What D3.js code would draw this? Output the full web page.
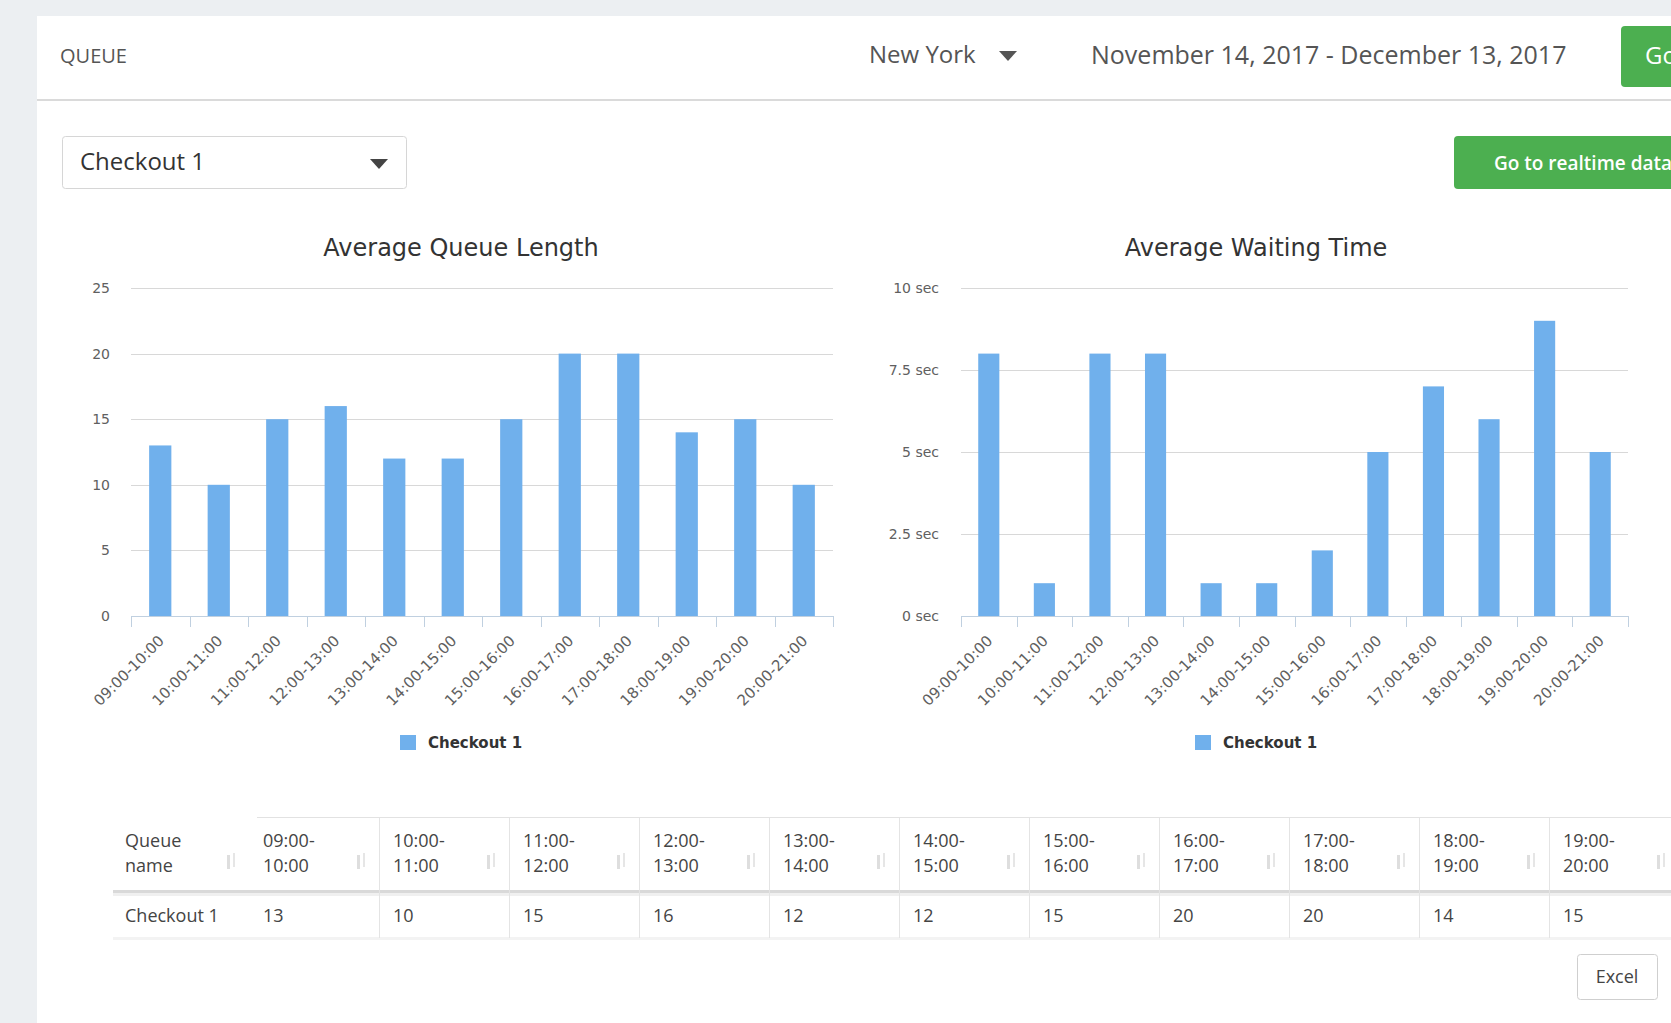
<!DOCTYPE html>
<meta charset="utf-8">
<style>
body { margin: 0; background: #eceff2; }
svg { display: block; }
.ui { font-family: "Open Sans", sans-serif; }
.axis text { font: 14px "DejaVu Sans", sans-serif; fill: #606060; }
.axis text.xl { font-size: 15px; }
.grid line { stroke: #d8d8d8; shape-rendering: crispEdges; }
.title { font: 24px "DejaVu Sans", sans-serif; fill: #333; }
.legend text { font: bold 15px "DejaVu Sans", sans-serif; fill: #333; }
.table text { font: 18px "Open Sans", sans-serif; fill: #444; }
</style>
<svg width="1671" height="1023"></svg>
<script src="https://d3js.org/d3.v7.min.js"></script>
<script>

var slots = ["09:00-10:00", "10:00-11:00", "11:00-12:00", "12:00-13:00", "13:00-14:00", "14:00-15:00",
             "15:00-16:00", "16:00-17:00", "17:00-18:00", "18:00-19:00", "19:00-20:00", "20:00-21:00"];
var queueLength = [13, 10, 15, 16, 12, 12, 15, 20, 20, 14, 15, 10];
var waitingTime = [8, 1, 8, 8, 1, 1, 2, 5, 7, 6, 9, 5];
var queueTicks = [0, 5, 10, 15, 20, 25];
var waitTicks = [0, 2.5, 5, 7.5, 10];
var seriesName = "Checkout 1";

var barColor = "#70b0ec",
    green = "#4caf50";

var svg = d3.select("svg");

// panel + header
svg.append("rect").attr("x", 37).attr("y", 16).attr("width", 1660).attr("height", 1020).attr("fill", "#fff");
svg.append("line").attr("x1", 37).attr("x2", 1671).attr("y1", 100).attr("y2", 100)
    .attr("stroke", "#dadada").attr("stroke-width", 2);

var ui = svg.append("g").attr("class", "ui");
ui.append("text").attr("x", 60).attr("y", 56).attr("dy", "0.35em")
    .attr("font-size", 20).attr("fill", "#555").text("QUEUE");
ui.append("text").attr("x", 869).attr("y", 55).attr("dy", "0.35em")
    .attr("font-size", 24).attr("fill", "#555").text("New York");
ui.append("path").attr("d", "M999,51 L1017,51 L1008,61 Z").attr("fill", "#555");
ui.append("text").attr("x", 1091).attr("y", 55).attr("dy", "0.35em")
    .attr("font-size", 25).attr("fill", "#555").text("November 14, 2017 - December 13, 2017");
ui.append("rect").attr("x", 1621).attr("y", 26).attr("width", 90).attr("height", 61).attr("rx", 4).attr("fill", green);
ui.append("text").attr("x", 1645).attr("y", 56).attr("dy", "0.35em")
    .attr("font-size", 24).attr("fill", "#fff").text("Go");

// dropdown
ui.append("rect").attr("x", 62.5).attr("y", 136.5).attr("width", 344).attr("height", 52).attr("rx", 3)
    .attr("fill", "#fff").attr("stroke", "#d6d6d6");
ui.append("text").attr("x", 80).attr("y", 162).attr("dy", "0.35em")
    .attr("font-size", 24).attr("fill", "#333").text("Checkout 1");
ui.append("path").attr("d", "M370,159 L388,159 L379,169 Z").attr("fill", "#444");

// realtime button
ui.append("rect").attr("x", 1454).attr("y", 136).attr("width", 260).attr("height", 53).attr("rx", 4).attr("fill", green);
ui.append("text").attr("x", 1494).attr("y", 163).attr("dy", "0.35em")
    .attr("font-size", 19).attr("font-weight", 600).attr("fill", "#fff").text("Go to realtime data");

function drawChart(o) {
  var x = d3.scaleBand().domain(slots).range([o.left, o.right]).paddingInner(0.62).paddingOuter(0.31);
  var y = d3.scaleLinear().domain([0, o.max]).range([616, 288]);
  var step = x.step(), x0 = o.left;

  var g = svg.append("g");

  g.append("text").attr("class", "title").attr("x", o.center).attr("y", 248)
      .attr("dy", "0.35em").attr("text-anchor", "middle").text(o.title);

  g.append("g").attr("class", "grid").selectAll("line").data(o.ticks.slice(1)).join("line")
      .attr("x1", o.left).attr("x2", o.right)
      .attr("y1", function(d) { return Math.round(y(d)) + 0.5; })
      .attr("y2", function(d) { return Math.round(y(d)) + 0.5; });

  var yAxis = d3.axisLeft(y).tickValues(o.ticks).tickSize(0).tickPadding(0).tickFormat(o.fmt);
  g.append("g").attr("class", "axis").attr("transform", "translate(" + o.labelX + ",0)").call(yAxis)
      .call(function(s) { s.select(".domain").remove(); });

  g.selectAll("rect.bar").data(o.values).join("rect")
      .attr("class", "bar")
      .attr("x", function(d, i) { return x(slots[i]); })
      .attr("width", x.bandwidth())
      .attr("y", function(d) { return y(d); })
      .attr("height", function(d) { return y(0) - y(d); })
      .attr("fill", barColor);

  // x axis line and ticks at category boundaries
  g.append("line").attr("x1", o.left).attr("x2", o.right).attr("y1", 616.5).attr("y2", 616.5)
      .attr("stroke", "#c0d0e0");
  g.selectAll("line.tick").data(d3.range(slots.length + 1)).join("line")
      .attr("class", "tick")
      .attr("x1", function(i) { return Math.round(x0 + i * step) + 0.5; })
      .attr("x2", function(i) { return Math.round(x0 + i * step) + 0.5; })
      .attr("y1", 616).attr("y2", 627).attr("stroke", "#c0d0e0");

  g.append("g").attr("class", "axis").selectAll("text").data(slots).join("text")
      .attr("class", "xl")
      .attr("transform", function(d) {
        return "translate(" + (x(d) + x.bandwidth() / 2 + 1) + ",638) rotate(-45)";
      })
      .attr("text-anchor", "end").attr("dy", "0.35em").text(function(d) { return d; });

  var lg = g.append("g").attr("class", "legend");
  lg.append("rect").attr("x", o.center - 61).attr("y", 735).attr("width", 16).attr("height", 15).attr("fill", barColor);
  lg.append("text").attr("x", o.center - 33).attr("y", 743).attr("dy", "0.35em").text(seriesName);
}

drawChart({ left: 131, right: 833, center: 461, labelX: 110, max: 25, ticks: queueTicks,
  fmt: function(d) { return d; }, values: queueLength, title: "Average Queue Length" });
drawChart({ left: 961, right: 1628, center: 1256, labelX: 939, max: 10, ticks: waitTicks,
  fmt: function(d) { return d + " sec"; }, values: waitingTime, title: "Average Waiting Time" });

// table
var colX = d3.scaleLinear().domain([0, 1]).range([249, 379]);
var tbl = svg.append("g").attr("class", "table");

tbl.append("line").attr("x1", 257).attr("x2", 1671).attr("y1", 817.5).attr("y2", 817.5).attr("stroke", "#e2e2e2");
tbl.append("rect").attr("x", 113).attr("y", 890).attr("width", 1560).attr("height", 3).attr("fill", "#d9d9d9");
tbl.append("rect").attr("x", 113).attr("y", 893).attr("width", 1560).attr("height", 3).attr("fill", "#f0f0f0");
tbl.append("rect").attr("x", 113).attr("y", 937).attr("width", 1560).attr("height", 3).attr("fill", "#f3f3f3");

tbl.selectAll("line.col").data(d3.range(1, slots.length + 1)).join("line")
    .attr("class", "col")
    .attr("x1", function(i) { return Math.round(colX(i)) + 0.5; })
    .attr("x2", function(i) { return Math.round(colX(i)) + 0.5; })
    .attr("y1", 818).attr("y2", 938).attr("stroke", "#e4e4e4");

tbl.append("text").attr("x", 125).attr("y", 841).attr("dy", "0.35em").text("Queue");
tbl.append("text").attr("x", 125).attr("y", 866).attr("dy", "0.35em").text("name");
tbl.append("text").attr("x", 125).attr("y", 916).attr("dy", "0.35em").text(seriesName);

var cols = tbl.selectAll("g.c").data(slots).join("g").attr("class", "c");
cols.append("text").attr("x", function(d, i) { return colX(i) + 14; }).attr("y", 841).attr("dy", "0.35em")
    .text(function(d) { return d.split("-")[0] + "-"; });
cols.append("text").attr("x", function(d, i) { return colX(i) + 14; }).attr("y", 866).attr("dy", "0.35em")
    .text(function(d) { return d.split("-")[1]; });
cols.append("text").attr("x", function(d, i) { return colX(i) + 14; }).attr("y", 916).attr("dy", "0.35em")
    .text(function(d, i) { return queueLength[i]; });

// faded sort icons (two thin bars)
var sorts = tbl.selectAll("g.sort").data(d3.range(0, slots.length + 1)).join("g")
    .attr("class", "sort")
    .attr("transform", function(i) { return "translate(" + (colX(i) - 22) + ",853)"; });
sorts.append("rect").attr("x", 0).attr("y", 2).attr("width", 3).attr("height", 14).attr("fill", "#dedede");
sorts.append("rect").attr("x", 6).attr("y", 0).attr("width", 2).attr("height", 14).attr("fill", "#e6e6e6");

// excel button
tbl.append("rect").attr("x", 1577.5).attr("y", 954.5).attr("width", 80).attr("height", 45).attr("rx", 3)
    .attr("fill", "#fff").attr("stroke", "#cfcfcf");
tbl.append("text").attr("x", 1617).attr("y", 977).attr("dy", "0.35em").attr("text-anchor", "middle").text("Excel");

</script>
